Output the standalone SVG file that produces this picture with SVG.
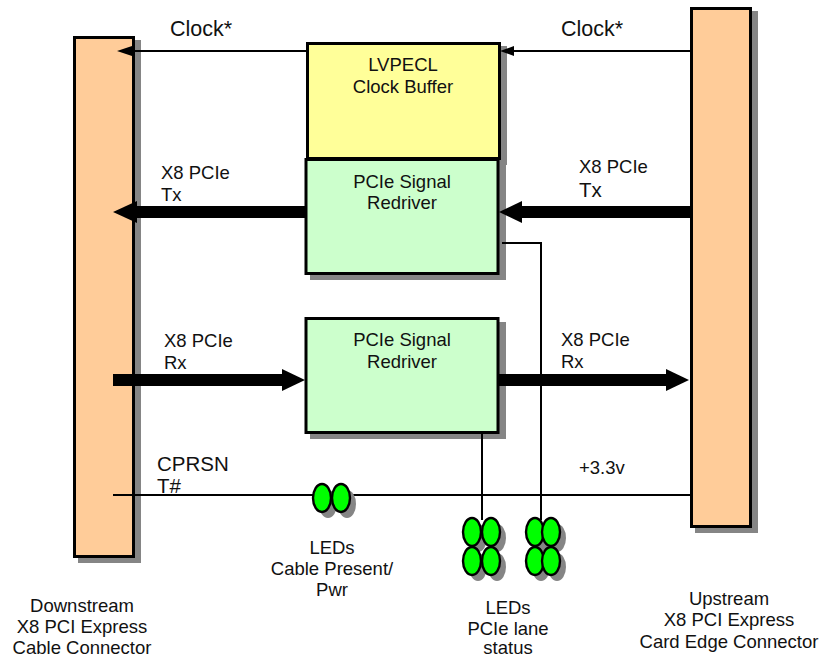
<svg xmlns="http://www.w3.org/2000/svg" width="837" height="658" viewBox="0 0 837 658">
<defs><filter id="soft" x="-10%" y="-10%" width="120%" height="120%"><feGaussianBlur stdDeviation="0.7"/></filter></defs>
<style>
text{font-family:"Liberation Sans",Arial,sans-serif;font-size:18.500px;fill:#111}
.m{text-anchor:middle}
.big{font-size:20.500px}
.clk{font-size:21.500px}
.s{fill:#858585;filter:url(#soft)}
.b{stroke:#000;stroke-width:3}
.o{fill:#ffcc99}.y{fill:#ffff99}.g{fill:#ccffcc}
.l{fill:#00ff00;stroke:#000;stroke-width:2.400}
.c{fill:none;stroke:#000;stroke-width:2}
.t{fill:none;stroke:#000;stroke-width:12}
</style>
<rect width="837" height="658" fill="#fff"/>
<g id="node-downstream">
<rect class="s" x="78" y="40" width="63" height="523"/>
<rect class="o b" x="74.500" y="37.500" width="59" height="519"/>
<text class="m" x="82" y="612">Downstream</text>
<text class="m" x="82" y="633">X8 PCI Express</text>
<text class="m" x="82" y="654">Cable Connector</text>
</g>
<g id="node-upstream">
<rect class="s" x="695" y="11" width="63" height="522"/>
<rect class="o b" x="691.500" y="8.500" width="59" height="518"/>
<text class="m" x="729" y="605">Upstream</text>
<text class="m" x="729" y="626">X8 PCI Express</text>
<text class="m" x="729" y="648">Card Edge Connector</text>
</g>
<g id="node-clock-buffer">
<rect class="s" x="311" y="46" width="196" height="119"/>
<rect class="y b" x="307.500" y="43.500" width="192" height="115"/>
<text class="m" x="403" y="71">LVPECL</text>
<text class="m" x="403" y="93">Clock Buffer</text>
</g>
<g id="node-redriver-tx">
<rect class="s" x="310" y="160" width="196" height="120"/>
<rect class="g b" x="306" y="159.500" width="192" height="114"/>
<text class="m" x="402" y="188">PCIe Signal</text>
<text class="m" x="402" y="209">Redriver</text>
</g>
<g id="node-redriver-rx">
<rect class="s" x="310" y="322" width="196" height="117"/>
<rect class="g b" x="306" y="318.500" width="192" height="114"/>
<text class="m" x="402" y="346">PCIe Signal</text>
<text class="m" x="402" y="368">Redriver</text>
</g>
<g id="connectors">
<path class="c" d="M306 51H130"/>
<path d="M117 51L132 46V56Z"/>
<path class="c" d="M691 51H512"/>
<path d="M500 51L514 46V56Z"/>
<path class="t" d="M306 212H135"/>
<path d="M113 212L137 201V223Z"/>
<path class="t" d="M691 212H520"/>
<path d="M499 212L522 201V223Z"/>
<path class="t" d="M113 380H285"/>
<path d="M305 380L282 369V391Z"/>
<path class="t" d="M497 380H668"/>
<path d="M689 380L666 369V391Z"/>
<path class="c" d="M113 495H691"/>
<path class="c" d="M482 432V520"/>
<path class="c" d="M502 243H541V520"/>
</g>
<g id="node-led-cable">
<ellipse class="s" cx="328" cy="504" rx="9" ry="14"/><ellipse class="s" cx="347" cy="504" rx="9" ry="14"/>
<ellipse class="l" cx="322" cy="498" rx="9" ry="14"/><ellipse class="l" cx="341" cy="498" rx="9" ry="14"/>
<text class="m" x="332" y="554">LEDs</text>
<text class="m" x="332" y="575">Cable Present/</text>
<text class="m" x="332" y="596">Pwr</text>
</g>
<g id="node-led-lane">
<ellipse class="s" cx="478" cy="538" rx="9" ry="14"/><ellipse class="s" cx="497" cy="538" rx="9" ry="14"/>
<ellipse class="s" cx="478" cy="567" rx="9" ry="14"/><ellipse class="s" cx="497" cy="567" rx="9" ry="14"/>
<ellipse class="s" cx="541" cy="538" rx="9" ry="14"/><ellipse class="s" cx="557" cy="538" rx="9" ry="14"/>
<ellipse class="s" cx="541" cy="567" rx="9" ry="14"/><ellipse class="s" cx="557" cy="567" rx="9" ry="14"/>
<ellipse class="l" cx="472" cy="532" rx="9" ry="14"/><ellipse class="l" cx="491" cy="532" rx="9" ry="14"/>
<ellipse class="l" cx="472" cy="561" rx="9" ry="14"/><ellipse class="l" cx="491" cy="561" rx="9" ry="14"/>
<ellipse class="l" cx="535" cy="532" rx="9" ry="14"/><ellipse class="l" cx="551" cy="532" rx="9" ry="14"/>
<ellipse class="l" cx="535" cy="561" rx="9" ry="14"/><ellipse class="l" cx="551" cy="561" rx="9" ry="14"/>
<text class="m" x="508" y="614">LEDs</text>
<text class="m" x="508" y="635">PCIe lane</text>
<text class="m" x="508" y="654">status</text>
</g>
<g id="labels">
<text class="clk" x="170" y="36">Clock*</text>
<text class="clk" x="561" y="36">Clock*</text>
<text x="161" y="179">X8 PCIe</text>
<text x="161" y="201">Tx</text>
<text x="579" y="173">X8 PCIe</text>
<text class="big" x="579" y="197">Tx</text>
<text x="164" y="347">X8 PCIe</text>
<text x="164" y="369">Rx</text>
<text x="561" y="346">X8 PCIe</text>
<text x="561" y="368">Rx</text>
<text class="big" x="157" y="471">CPRSN</text>
<text class="big" x="157" y="493">T#</text>
<text x="579" y="474">+3.3v</text>
</g>
</svg>
